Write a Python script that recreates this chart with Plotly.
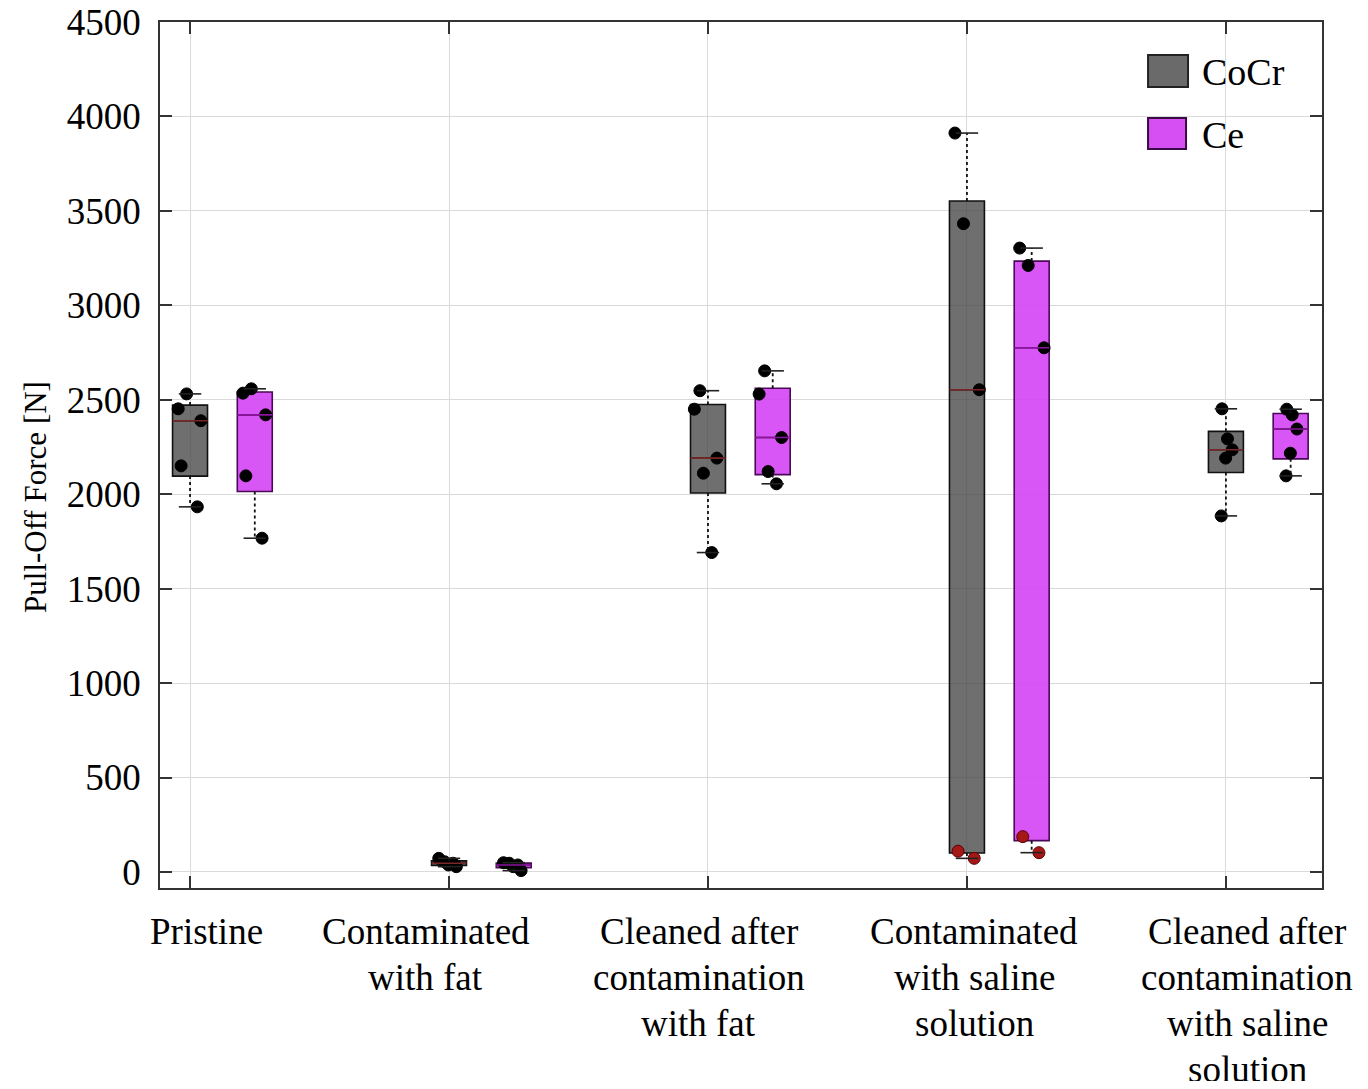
import numpy as np
import plotly.graph_objects as go

# ---------------- data ----------------
categories = [
    "Pristine",
    "Contaminated<br>with fat",
    "Cleaned after<br>contamination<br>with fat",
    "Contaminated<br>with saline<br>solution",
    "Cleaned after<br>contamination<br>with saline<br>solution",
]
series_names = ["CoCr", "Ce"]

# black points (regular) per category
cocr_black = [
    [2531, 2452, 2389, 2150, 1933],
    [72, 28, 37, 46, 54],
    [2548, 2450, 2191, 2111, 1691],
    [3912, 3432, 2553],
    [2452, 2293, 2235, 2191, 1885],
]
# red points per category
cocr_red = [[], [], [], [110, 72], []]

ce_black = [
    [2558, 2535, 2420, 2097, 1767],
    [7, 28, 37, 46, 49],
    [2653, 2530, 2300, 2120, 2055],
    [3303, 3211, 2775],
    [2450, 2420, 2345, 2217, 2097],
]
ce_red = [[], [], [], [187, 102], []]

y_ticks = [0, 500, 1000, 1500, 2000, 2500, 3000, 3500, 4000, 4500]

# ---------------- styling / layout constants ----------------
FONT = "Liberation Serif"
BOX_W = 0.135
CE_OFFSET = 0.25
label_shift = [0.0645, -0.089, -0.035, 0.029, 0.083]  # label centre offsets from tick

styles = {
    "CoCr": dict(fill="rgba(70,70,70,0.78)", line="#111111", median="#7a2626",
                 legend_fill="#6a6a6a", legend_line="#222222"),
    "Ce": dict(fill="rgba(214,72,245,0.92)", line="#4a0a55", median="#8a149e",
               legend_fill="#d64ff2", legend_line="#3a0a45"),
}

fig = go.Figure()


def add_series(name, black, red, offset):
    st = styles[name]
    pos = [i + 1 + offset for i in range(len(categories))]
    q1s, meds, q3s, lo, hi = [], [], [], [], []
    for b, r in zip(black, red):
        vals = np.array(b + r, dtype=float)
        q1, med, q3 = np.percentile(vals, [25, 50, 75], method="hazen")
        iqr = q3 - q1
        w_hi = vals[vals <= q3 + 1.5 * iqr].max()
        w_lo = vals[vals >= q1 - 1.5 * iqr].min()
        q1s.append(q1); meds.append(med); q3s.append(q3); lo.append(w_lo); hi.append(w_hi)

    # boxes
    fig.add_trace(go.Box(
        x=pos, q1=q1s, median=meds, q3=q3s, lowerfence=q1s, upperfence=q3s,
        width=BOX_W, fillcolor=st["fill"], line=dict(color=st["line"], width=1.6),
        whiskerwidth=0, boxpoints=False, showlegend=False, hoverinfo="skip",
    ))
    # dotted whiskers
    wx, wy = [], []
    for p, a, b_, c, d in zip(pos, q3s, hi, q1s, lo):
        wx += [p, p, None, p, p, None]
        wy += [a, b_, None, c, d, None]
    fig.add_trace(go.Scatter(x=wx, y=wy, mode="lines",
                             line=dict(color="#111111", width=1.8, dash="3px,3px"),
                             showlegend=False, hoverinfo="skip"))
    # whisker caps
    fig.add_trace(go.Scatter(x=pos + pos, y=hi + lo, mode="markers",
                             marker=dict(symbol="line-ew", size=16,
                                         line=dict(color="#222222", width=1.6)),
                             showlegend=False, hoverinfo="skip"))
    # median lines
    fig.add_trace(go.Scatter(x=pos, y=meds, mode="markers",
                             marker=dict(symbol="line-ew", size=25,
                                         line=dict(color=st["median"], width=1.6)),
                             showlegend=False, hoverinfo="skip"))
    # points (jittered by plotly)
    for pts, col, lcol in ((black, "#000000", "#000000"), (red, "#a51818", "#5a0000")):
        xs, ys = [], []
        for p, grp in zip(pos, pts):
            xs += [p] * len(grp)
            ys += grp
        if not ys:
            continue
        fig.add_trace(go.Box(
            x=xs, y=ys, boxpoints="all", jitter=0.8, pointpos=0, width=BOX_W,
            fillcolor="rgba(0,0,0,0)", line=dict(width=0, color="rgba(0,0,0,0)"),
            marker=dict(color=col, size=12, line=dict(color=lcol, width=1)),
            showlegend=False, hoverinfo="skip",
        ))


add_series("CoCr", cocr_black, cocr_red, 0.0)
add_series("Ce", ce_black, ce_red, CE_OFFSET)

# ---------------- category labels (one annotation per line) ----------------
LINE_H = 46
for i, (cat, sh) in enumerate(zip(categories, label_shift)):
    for j, line in enumerate(cat.split("<br>")):
        fig.add_annotation(
            x=i + 1 + sh, xref="x", y=0, yref="paper",
            text=line, showarrow=False, xanchor="center", yanchor="middle",
            yshift=-(43 + j * LINE_H),
            font=dict(family=FONT, size=37, color="black"),
        )

# y-axis title
fig.add_annotation(
    x=-0.1076, xref="paper", y=0.4515, yref="paper",
    text="Pull-Off Force [N]", textangle=-90, showarrow=False,
    xanchor="center", yanchor="middle",
    font=dict(family=FONT, size=31, color="black"),
)

# manual legend
leg = [("CoCr", 0.9249, 0.9619, 0.8847, 0.9423), ("Ce", 0.8533, 0.8891, 0.8830, 0.8695)]
for name, y0, y1, x1, ty in leg:
    st = styles[name]
    fig.add_shape(type="rect", xref="paper", yref="paper", x0=0.8503, x1=x1, y0=y0, y1=y1,
                  fillcolor=st["legend_fill"], line=dict(color=st["legend_line"], width=2))
    fig.add_annotation(x=0.895, xref="paper", y=ty, yref="paper", text=name,
                       showarrow=False, xanchor="left", yanchor="middle",
                       font=dict(family=FONT, size=38, color="black"))

# the page has an 8px body margin; size/margins compensate for it
fig.update_layout(
    width=1352, height=1073,
    margin=dict(l=152, r=38, t=14, b=193),
    paper_bgcolor="white", plot_bgcolor="white",
    showlegend=False,
    boxmode="overlay",
    font=dict(family=FONT, color="black"),
    xaxis=dict(
        range=[0.884, 5.371], tickvals=[1, 2, 3, 4, 5], showticklabels=False,
        showgrid=True, gridcolor="#dadada", gridwidth=1, zeroline=False,
        ticks="inside", ticklen=12, tickcolor="#333333", tickwidth=1.5,
        showline=True, linecolor="#333333", linewidth=1.8, mirror="ticks",
        automargin=False,
    ),
    yaxis=dict(
        range=[-85, 4500], tickvals=y_ticks, ticktext=[str(v) for v in y_ticks],
        showgrid=True, gridcolor="#dadada", gridwidth=1, zeroline=False,
        ticks="inside", ticklen=12, tickcolor="#333333", tickwidth=1.5,
        showline=True, linecolor="#333333", linewidth=1.8, mirror="ticks",
        tickfont=dict(family=FONT, size=37, color="black"), ticklabelstandoff=10,
        ticklabeloverflow="allow", automargin=False,
    ),
)

fig.write_html("out.html")
